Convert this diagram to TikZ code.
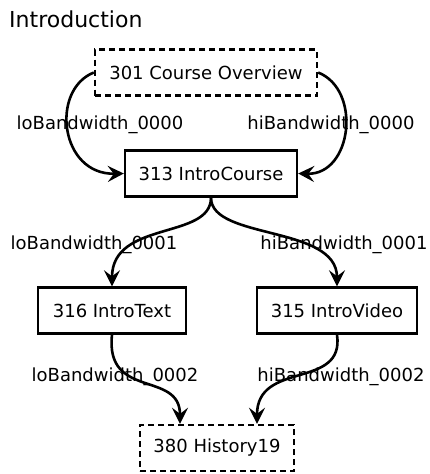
\documentclass[tikz,border=0pt]{standalone}
\usepackage{fontspec}
\setmainfont{DejaVu Sans}
\usetikzlibrary{arrows.meta}
\tikzset{
  box/.style={draw, line width=2.4pt, inner sep=0pt, minimum height=46pt,
    font=\fontsize{18}{20}\selectfont, fill=white},
  dashbox/.style={box, dash pattern=on 6pt off 4pt},
  link/.style={line width=2.6pt,
    -{Stealth[length=16pt, width=16pt, inset=6pt]}},
  lbl/.style={font=\fontsize{18}{20}\selectfont, inner sep=0pt},
}
\begin{document}
\begin{tikzpicture}[x=1pt, y=-1pt]
  \useasboundingbox (0,0) rectangle (430,474);

  \node[anchor=base west, inner sep=0pt, font=\fontsize{22}{24}\selectfont]
    (title) at (9,27) {Introduction};

  \node[dashbox, minimum width=222pt] (overview) at (206,72.5) {301 Course Overview};
  \node[box, minimum width=172pt] (course) at (211,173.5) {313 IntroCourse};
  \node[box, minimum width=148pt] (text) at (112,310.5) {316 IntroText};
  \node[box, minimum width=160pt] (video) at (337,310.5) {315 IntroVideo};
  \node[dashbox, minimum width=154pt] (history) at (217,448) {380 History19};

  \node[lbl] (l0) at (100,125) {loBandwidth\_0000};
  \node[lbl] (h0) at (331,125) {hiBandwidth\_0000};
  \node[lbl] (l1) at (94,245) {loBandwidth\_0001};
  \node[lbl] (h1) at (344,245) {hiBandwidth\_0001};
  \node[lbl] (l2) at (115,377) {loBandwidth\_0002};
  \node[lbl] (h2) at (341,377) {hiBandwidth\_0002};

  \draw[link] (overview.west) .. controls (50,90) and (60,175) .. (course.west);
  \draw[link] (overview.east) .. controls (362,90) and (352,175) .. (course.east);
  \draw[link] (course.south) .. controls (211,240) and (112,220) .. (text.north);
  \draw[link] (course.south) .. controls (211,240) and (337,225) .. (video.north);
  \draw[link] (text.south) .. controls (105,400) and (180,370) .. ([xshift=-37pt]history.north);
  \draw[link] (video.south) .. controls (345,390) and (257,360) .. ([xshift=40pt]history.north);
\end{tikzpicture}
\end{document}
